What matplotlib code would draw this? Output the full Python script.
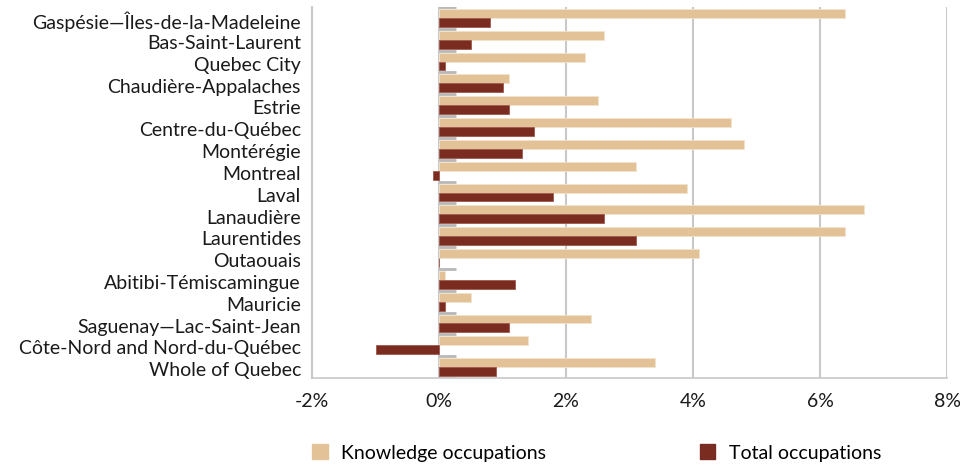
import numpy as np
import matplotlib.pyplot as plt
from matplotlib.patches import Patch

plt.rcParams['font.family'] = ['Lato', 'DejaVu Sans']

regions = ['Gaspésie—Îles-de-la-Madeleine', 'Bas-Saint-Laurent', 'Quebec City',
           'Chaudière-Appalaches', 'Estrie', 'Centre-du-Québec', 'Montérégie',
           'Montreal', 'Laval', 'Lanaudière', 'Laurentides', 'Outaouais',
           'Abitibi-Témiscamingue', 'Mauricie', 'Saguenay—Lac-Saint-Jean',
           'Côte-Nord and Nord-du-Québec', 'Whole of Quebec']
knowledge = [6.4, 2.6, 2.3, 1.1, 2.5, 4.6, 4.8, 3.1, 3.9, 6.7, 6.4, 4.1,
             0.1, 0.5, 2.4, 1.4, 3.4]
total = [0.8, 0.5, 0.1, 1.0, 1.1, 1.5, 1.3, -0.1, 1.8, 2.6, 3.1, 0.0,
         1.2, 0.1, 1.1, -1.0, 0.9]
xticks = [-2, 0, 2, 4, 6, 8]

c_know = '#E3C297'
c_tot = '#7B2C20'
grid_c = '#C8C8C8'

fig = plt.figure(figsize=(9.6, 4.65), dpi=100)
ax = fig.add_axes([0.325, 0.187, 0.6615, 0.798])

y = np.arange(len(regions))
h = 0.41
ax.barh(y - h / 2, knowledge, height=h, color=c_know, edgecolor='#F2E3CF', lw=0.6, zorder=3)
ax.barh(y + h / 2, total, height=h, color=c_tot, edgecolor='#A0584C', lw=0.6, zorder=3)

ax.set_xlim(-2, 8)
ax.set_ylim(len(regions) - 0.5, -0.5)
ax.set_xticks(xticks)
ax.set_xticklabels(['%d%%' % v for v in xticks])
ax.set_yticks(y + 0.1)
ax.set_yticklabels(regions)
ax.tick_params(axis='both', length=0, labelsize=14, colors='#1a1a1a')
ax.tick_params(axis='x', pad=11)
ax.tick_params(axis='y', pad=8)

for v in xticks[1:]:
    if v != 0:
        ax.axvline(v, color=grid_c, lw=1.5, zorder=1)
# zero axis with category boundary ticks
ax.axvline(0, color=grid_c, lw=1.5, zorder=2)
ax.hlines(np.arange(len(regions) + 1) - 0.5, 0, 0.27, color='#B8B8B8', lw=2, zorder=2)

for s in ['top', 'right']:
    ax.spines[s].set_visible(False)
ax.spines['left'].set_color(grid_c)
ax.spines['left'].set_linewidth(1.5)
ax.spines['bottom'].set_color(grid_c)
ax.spines['bottom'].set_linewidth(1.2)

handles = [Patch(color=c_know, label='Knowledge occupations'),
           Patch(color=c_tot, label='Total occupations')]
fig.legend(handles=handles, loc='center left', bbox_to_anchor=(0.315, 0.026),
           ncol=2, frameon=False, fontsize=14, handlelength=0.8, handleheight=0.8,
           handletextpad=0.7, columnspacing=7.9, borderpad=0)

fig.savefig('out.png', dpi=100)
